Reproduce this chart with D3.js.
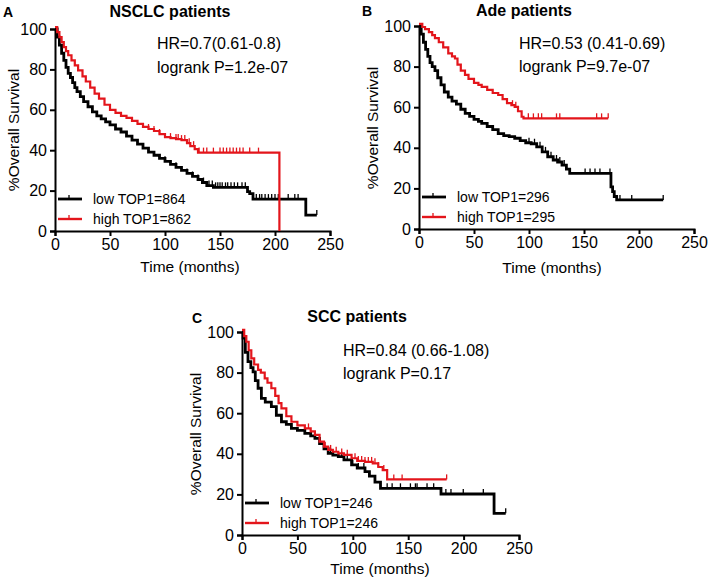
<!DOCTYPE html>
<html>
<head>
<meta charset="utf-8">
<script src="https://cdn.jsdelivr.net/npm/d3@7"></script>
<style>
  html, body { margin: 0; padding: 0; background: #fff; }
  svg text { font-family: Arial, "Liberation Sans", sans-serif; fill: #000; }
</style>
</head>
<body>
<svg id="chart" width="712" height="587"></svg>
<script>
// ---------- DATA ----------
const xTicks = [0, 50, 100, 150, 200, 250];
const yTicks = [0, 20, 40, 60, 80, 100];

// Panel A: NSCLC
const aLowT  = [0,2,4,6,8,10,12,14,16,18,20,23,26,30,34,38,42,46,50,55,60,65,70,75,80,85,90,95,100,105,110,115,120,125,130,134,138,144,175,177,180,228,238];
const aLowS  = [100,96,92,88,84.5,81,78,76,73.5,71,69,66.5,64,61.5,59,57,55.5,54,52.5,50.5,49,47,45,43,41,39,37.5,36,34.5,33,31.5,30,28.5,27,25.5,24,22.5,21.6,19.5,18.5,15.8,7.9,7.9];
const aHighT = [0,2,4,6,8,10,12,15,18,21,25,28,32,36,40,45,50,55,60,65,70,75,80,85,90,95,100,105,110,115,120,123,127,130,204];
const aHighS = [101,98.5,96,93.5,91,89,87,84.5,82,79.5,76.5,74,71,68,65.5,62.5,60,58.5,57,56,54.5,53,51.5,50.5,49.5,48,46.5,46,45.5,45,43.5,42,40.5,38.8,0];
const aLowCensor  = [100,110,120,125,130,135,140,143,146,148,150,152,155,157,160,163,166,170,173,183,186,188,191,194,197,200,203,212,218,221,238];
const aHighCensor = [85,90,95,105,110,112,115,118,122,126,131,135,138,144,150,153,156,159,162,165,168,171,177,185];

// Panel B: Ade
const bLowT  = [0,2,4,6,8,10,12,14.5,17,20,23,26.6,30,34,38,42,46,50,54,57,62,67,72,77,82,87,92,97,102,107,112,117,122,126,130,134,137,174.5,176,177.5,179.7,222];
const bLowS  = [100,96,92,88.5,85,82,80,78,74.5,71,67.5,65,63,61.5,59,57,55.5,54,53,52,50.5,49,47,46,45.5,44.7,43.5,42.5,42,40.5,38,35.6,34,33,31.5,29.5,27.4,20.8,18.4,16,14.3,14.3];
const bHighT = [0,3,5.5,9,12,14.5,18,22,26.6,30,32.7,35,38,41.8,45,50,54,57,62,67,72,76,80,84,87,90,93.3,95,172];
const bHighS = [101,99.5,98.5,97,95.5,94,92,89.5,86.5,85,84,81,78,75.9,74,72,71,70,68.5,67,66,64,62,61,60.2,58,55.3,54.5,54.5];
const bLowCensor  = [100,105,110,115,120,125,128,132,137,151,155.5,160,164.5,173.6,182.7,193.4,222];
const bHighCensor = [80,85,88,99.4,104,108.5,111.5,125,128,161.5,166,172];

// Panel C: SCC
const cLowT  = [0,1,3,5.4,8,10,12,14.5,17.5,21,26.5,31,35.6,40,44.6,50,56.7,62,65.8,70,74,77.8,82,86.9,92,98.9,104,111,115,120,125,179.6,227.5,238];
const cLowS  = [100,97,90,85.4,82.5,80.4,76,72.3,67.3,65.5,63.2,59,55.8,54.5,52.5,51.5,50.1,48.8,47.6,45,42.5,40.2,39.3,38.6,37,34.5,33,31.2,29,26,23,20.2,10.7,10.7];
const cHighT = [0,2,3.9,6,8.4,11,14.5,17,20.5,23,26.5,30,33,35.6,40,44.6,50,56.7,62,65.8,70,74,77.8,82,86.9,92,98.9,104,111,118,123,127,131,184.7];
const cHighS = [101,98,95.2,91,87,84,81.3,80,77.2,75,72.3,68.5,65,62.4,58.5,55.8,54,52.5,51,49.3,46,43.5,41.9,41,40.2,39.5,37.8,36.5,36,35.3,33.5,32,27.4,27.4];
const cLowCensor  = [70,80,90,95,100,105,110,115,120,131,135.5,143,152,156.5,158,167,173,184,188.6,199.7,217.8,238];
const cHighCensor = [60,75,80,85,90,95,102,105,108,111,114,117,120,123,128,137,144.5,184.7];

const titles   = ["NSCLC patients", "Ade patients", "SCC patients"];
const letters  = ["A", "B", "C"];
const hrTexts  = ["HR=0.7(0.61-0.8)", "HR=0.53 (0.41-0.69)", "HR=0.84 (0.66-1.08)"];
const pTexts   = ["logrank P=1.2e-07", "logrank P=9.7e-07", "logrank P=0.17"];
const lowLabels  = ["low TOP1=864", "low TOP1=296", "low TOP1=246"];
const highLabels = ["high TOP1=862", "high TOP1=295", "high TOP1=246"];

// ---------- LAYOUT ----------
const RED = "#e3151b";
const panels = [
  { x0: 55,  x1: 330, y0: 231, y1: 29,  letter: [3, 17],  title: [170, 17], hr: [157, 49, 73], leg: [199, 219], ylab: [14, 130], xlab: [190, 272],
    low: [aLowT, aLowS, aLowCensor], high: [aHighT, aHighS, aHighCensor] },
  { x0: 419, x1: 694, y0: 229, y1: 26,  letter: [362, 16], title: [524, 16], hr: [519, 49, 72], leg: [197, 217], ylab: [373, 128], xlab: [552, 273],
    low: [bLowT, bLowS, bLowCensor], high: [bHighT, bHighS, bHighCensor] },
  { x0: 242, x1: 519, y0: 535, y1: 332, letter: [192, 323], title: [357, 322], hr: [343, 356, 379], leg: [503, 523], ylab: [196, 434], xlab: [380, 574],
    low: [cLowT, cLowS, cLowCensor], high: [cHighT, cHighS, cHighCensor] }
];

const svg = d3.select("#chart");

function stepValue(ts, ss, t) {
  const i = d3.bisectRight(ts, t) - 1;
  return ss[Math.max(0, Math.min(i, ss.length - 1))];
}

panels.forEach((p, k) => {
  const x = d3.scaleLinear().domain([0, 250]).range([p.x0, p.x1]);
  const y = d3.scaleLinear().domain([0, 100]).range([p.y0, p.y1]);
  const g = svg.append("g");

  // axes
  const xa = g.append("g").attr("transform", `translate(0,${p.y0})`)
    .call(d3.axisBottom(x).tickValues(xTicks).tickSize(5).tickPadding(3).tickFormat(d3.format("d")));
  const ya = g.append("g").attr("transform", `translate(${p.x0},0)`)
    .call(d3.axisLeft(y).tickValues(yTicks).tickSize(5).tickPadding(3).tickFormat(d3.format("d")));
  [xa, ya].forEach(a => {
    a.selectAll("path.domain").attr("stroke", "#000").attr("stroke-width", 2);
    a.selectAll(".tick line").attr("stroke", "#000").attr("stroke-width", 2);
    a.selectAll(".tick text").style("font-size", "16px").attr("fill", "#000")
      .style("font-family", 'Arial, "Liberation Sans", sans-serif');
  });

  // curves
  const line = d3.line().x(d => x(d[0])).y(d => y(d[1])).curve(d3.curveStepAfter);
  const series = [[p.low, "#000", 2.8], [p.high, RED, 2.2]];
  series.forEach(([data, color, w]) => {
    const [ts, ss, cs] = data;
    const pts = ts.map((t, i) => [t, ss[i]]);
    g.append("path").datum(pts).attr("d", line)
      .attr("fill", "none").attr("stroke", color).attr("stroke-width", w)
      .attr("stroke-linejoin", "miter");
    g.selectAll(null).data(cs).enter().append("line")
      .attr("x1", d => x(d)).attr("x2", d => x(d))
      .attr("y1", d => y(stepValue(ts, ss, d)))
      .attr("y2", d => y(stepValue(ts, ss, d)) - 5)
      .attr("stroke", color).attr("stroke-width", 1.3);
  });

  // legend
  [[p.leg[0], "#000", 2.8, lowLabels[k]], [p.leg[1], RED, 2.4, highLabels[k]]].forEach(([ly, c, w, lab]) => {
    g.append("line").attr("x1", p.x0 + 3).attr("x2", p.x0 + 27).attr("y1", ly).attr("y2", ly)
      .attr("stroke", c).attr("stroke-width", w);
    g.append("line").attr("x1", p.x0 + 14).attr("x2", p.x0 + 14).attr("y1", ly).attr("y2", ly - 4)
      .attr("stroke", c).attr("stroke-width", 1.3);
    g.append("text").attr("x", p.x0 + 38).attr("y", ly + 5).style("font-size", "14px").text(lab);
  });

  // texts
  g.append("text").attr("x", p.letter[0]).attr("y", p.letter[1])
    .style("font-size", "14px").style("font-weight", "bold").text(letters[k]);
  g.append("text").attr("x", p.title[0]).attr("y", p.title[1]).attr("text-anchor", "middle")
    .style("font-size", "16px").style("font-weight", "bold").text(titles[k]);
  g.append("text").attr("x", p.hr[0]).attr("y", p.hr[1]).style("font-size", "16px").text(hrTexts[k]);
  g.append("text").attr("x", p.hr[0]).attr("y", p.hr[2]).style("font-size", "16px").text(pTexts[k]);
  g.append("text").attr("transform", `translate(${p.ylab[0]},${p.ylab[1]}) rotate(-90)`)
    .attr("text-anchor", "middle").attr("dy", "0.35em").style("font-size", "15.5px").text("%Overall Survival");
  g.append("text").attr("x", p.xlab[0]).attr("y", p.xlab[1]).attr("text-anchor", "middle")
    .style("font-size", "15.5px").text("Time (months)");
});
</script>
</body>
</html>
